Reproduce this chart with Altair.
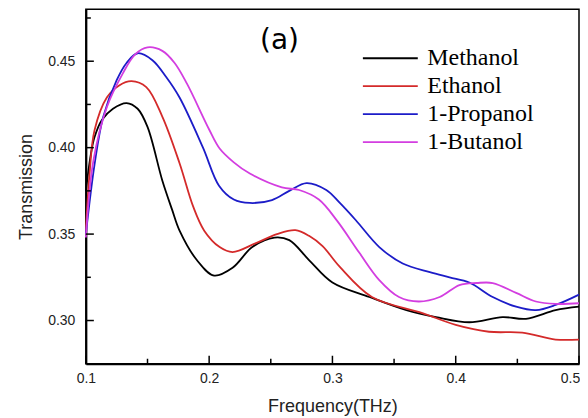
import altair as alt
import pandas as pd

series_names = ["Methanol", "Ethanol", "1-Propanol", "1-Butanol"]
series_colors = ["#000000", "#d42a2a", "#1c1cc8", "#d33ee0"]

methanol_x = [0.100, 0.104, 0.107, 0.113, 0.122, 0.133, 0.142, 0.150, 0.162, 0.170, 0.176, 0.190,
              0.204, 0.219, 0.235, 0.253, 0.265, 0.281, 0.300, 0.330, 0.360, 0.384, 0.411, 0.438,
              0.457, 0.481, 0.500]
methanol_y = [0.375, 0.396, 0.406, 0.416, 0.4225, 0.4258, 0.4225, 0.412, 0.381, 0.364, 0.352, 0.335,
              0.326, 0.3305, 0.3425, 0.348, 0.3465, 0.335, 0.322, 0.3136, 0.306, 0.302, 0.299, 0.302,
              0.301, 0.306, 0.308]

ethanol_x = [0.100, 0.103, 0.107, 0.117, 0.127, 0.137, 0.149, 0.162, 0.176, 0.187, 0.196, 0.2085,
             0.219, 0.238, 0.255, 0.270, 0.281, 0.292, 0.306, 0.332, 0.373, 0.400, 0.427, 0.454,
             0.481, 0.500]
ethanol_y = [0.352, 0.385, 0.410, 0.429, 0.436, 0.4385, 0.435, 0.418, 0.391, 0.366, 0.352, 0.3425,
             0.3396, 0.3448, 0.350, 0.3523, 0.349, 0.343, 0.331, 0.3136, 0.3043, 0.2975, 0.2935, 0.293,
             0.289, 0.289]

propanol_x = [0.100, 0.107, 0.114, 0.125, 0.133, 0.142, 0.154, 0.165, 0.176, 0.195, 0.208, 0.220,
              0.233, 0.251, 0.265, 0.279, 0.295, 0.306, 0.319, 0.338, 0.357, 0.379, 0.395, 0.411,
              0.430, 0.449, 0.465, 0.481, 0.500]
propanol_y = [0.350, 0.390, 0.4176, 0.439, 0.449, 0.4546, 0.4506, 0.441, 0.429, 0.400, 0.378, 0.370,
              0.368, 0.3697, 0.375, 0.3795, 0.3755, 0.368, 0.358, 0.3425, 0.333, 0.328, 0.325, 0.322,
              0.3136, 0.308, 0.306, 0.309, 0.315]

butanol_x = [0.100, 0.106, 0.117, 0.130, 0.140, 0.150, 0.162, 0.172, 0.182, 0.200, 0.2085, 0.220,
             0.233, 0.259, 0.273, 0.289, 0.304, 0.322, 0.338, 0.354, 0.370, 0.387, 0.403, 0.417,
             0.430, 0.449, 0.465, 0.481, 0.500]
butanol_y = [0.348, 0.392, 0.4234, 0.443, 0.454, 0.458, 0.456, 0.449, 0.437, 0.4105, 0.3995, 0.3915,
             0.385, 0.377, 0.3755, 0.370, 0.3575, 0.339, 0.3234, 0.3136, 0.311, 0.3136, 0.3205, 0.3217,
             0.3217, 0.316, 0.311, 0.3096, 0.310]

x_major = [0.1, 0.2, 0.3, 0.4, 0.5]
x_minor = [0.15, 0.25, 0.35, 0.45]
y_major = [0.30, 0.35, 0.40, 0.45]
y_minor = [0.325, 0.375, 0.425, 0.475]

x_domain = [0.1, 0.5]
y_domain = [0.275, 0.48]

W, H = 494, 355

rows = []
for name, xs, ys in [("Methanol", methanol_x, methanol_y),
                     ("Ethanol", ethanol_x, ethanol_y),
                     ("1-Propanol", propanol_x, propanol_y),
                     ("1-Butanol", butanol_x, butanol_y)]:
    for xv, yv in zip(xs, ys):
        rows.append({"freq": xv, "trans": yv, "series": name})
df = pd.DataFrame(rows)

xscale = alt.Scale(domain=x_domain, nice=False, zero=False)
yscale = alt.Scale(domain=y_domain, nice=False, zero=False)

x_axis = alt.Axis(values=x_major, format=".1f", title="Frequency(THz)",
                  tickSize=0, labelPadding=8, titlePadding=12, grid=False, labelFlush=False,
                  labelOffset=alt.condition("datum.value >= 0.49", alt.value(-9), alt.value(0)))
y_axis = alt.Axis(values=y_major, format=".2f", title="Transmission",
                  tickSize=0, labelPadding=11, titlePadding=12, grid=False, labelFlush=False)

lines = alt.Chart(df).mark_line(interpolate="catmull-rom", strokeWidth=1.8).encode(
    x=alt.X("freq:Q", scale=xscale, axis=x_axis, title="Frequency(THz)"),
    y=alt.Y("trans:Q", scale=yscale, axis=y_axis, title="Transmission"),
    color=alt.Color("series:N",
                    scale=alt.Scale(domain=series_names, range=series_colors),
                    legend=alt.Legend(title=None, orient="none", legendX=293, legendY=37,
                                      symbolType="M-3,0H3", symbolSize=336,
                                      symbolStrokeWidth=1.8, labelFont="Liberation Serif",
                                      labelFontSize=24, labelColor="#000000",
                                      labelOffset=25, rowPadding=4, padding=0)),
)

def tick_layer(vals, orient, length):
    d = pd.DataFrame({"v": vals})
    if orient == "x":
        return alt.Chart(d).mark_rule(color="black", strokeWidth=1.5).encode(
            x=alt.X("v:Q", scale=xscale, axis=x_axis, title="Frequency(THz)"),
            y=alt.value(H), y2=alt.value(H - length))
    return alt.Chart(d).mark_rule(color="black", strokeWidth=1.5).encode(
        y=alt.Y("v:Q", scale=yscale, axis=y_axis, title="Transmission"),
        x=alt.value(0), x2=alt.value(length))

label_a = alt.Chart(pd.DataFrame({"t": ["(a)"]})).mark_text(
    font="DejaVu Sans", fontSize=28, color="black", align="center", baseline="middle"
).encode(text="t:N", x=alt.value(194), y=alt.value(32))

chart = alt.layer(
    lines,
    tick_layer(x_major, "x", 8), tick_layer(x_minor, "x", 5),
    tick_layer(y_major, "y", 8), tick_layer(y_minor, "y", 5),
    label_a,
).properties(
    width=W, height=H,
    autosize=alt.AutoSizeParams(type="none"),
    padding={"left": 78, "top": 1, "right": 1, "bottom": 54},
).configure_view(
    stroke="black", strokeWidth=1.5
).configure_axis(
    domainColor="black", domainWidth=2,
    labelFont="Liberation Sans", labelFontSize=14, labelColor="#222222",
    titleFont="Liberation Sans", titleFontSize=18, titleFontWeight="normal", titleColor="#222222",
)

chart.save("out.html", embed_options={"renderer": "svg", "actions": False})
